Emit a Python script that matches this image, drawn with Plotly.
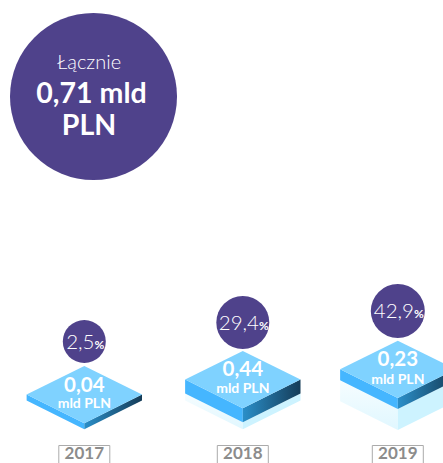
import plotly.graph_objects as go

# --- data ---
years = ["2017", "2018", "2019"]
values = ["0,04", "0,44", "0,23"]
shares = ["2,5", "29,4", "42,9"]
total_lines = ["Łącznie", "0,71 mld", "PLN"]
unit = "mld PLN"

# --- layout (pixel coordinates of the 443x463 page) ---
W, H = 443, 463
FONT = "Lato"
PURPLE = "#4f428b"
cx = [84.3, 242.8, 397.8]
top_y = [366, 351, 340.7]
half_w = 57.7
half_h = 28.6
slab = [6, 14, 11]
ghost = [0, 7, 21]
bub_y = [341.5, 322.5, 311]
bub_d = [43, 53, 54]
val_y = [387, 371, 361]
unit_y = [404.5, 389, 380]
YEAR_Y = 455
BOX_W = 51

fig = go.Figure()


def poly(xs, ys, color=None, gradient=None):
    kw = dict(fillgradient=gradient) if gradient else dict(fillcolor=color)
    fig.add_trace(go.Scatter(x=xs + xs[:1], y=ys + ys[:1], mode="lines", fill="toself",
                             line=dict(width=0), hoverinfo="skip", showlegend=False, **kw))


def label(x, y, text, size, color="white", weight="normal"):
    fig.add_trace(go.Scatter(x=[x], y=[y], mode="text", text=[text], textposition="middle center",
                             textfont=dict(family=FONT, size=size, color=color, weight=weight),
                             hoverinfo="skip", showlegend=False, cliponaxis=False))


for i in range(3):
    x, t = cx[i], top_y[i]
    l, r = x - half_w, x + half_w
    m = t + half_h
    b = t + 2 * half_h
    d, g = slab[i], ghost[i]
    if g:
        poly([l, x, x, l], [m + d, b + d, b + d + g, m + d + g],
             gradient=dict(type="vertical", colorscale=[[0, "#e0f7ff"], [1, "#f6fdff"]]))
        poly([x, r, r, x], [b + d, m + d, m + d + g, b + d + g], color="#cdf3ff")
    poly([l, x, x, l], [m, b, b + d, m + d], color="#45b6ff")
    poly([x, r, r, x], [b, m, m + d, b + d],
         gradient=dict(type="horizontal", colorscale=[[0, "#2b8fc9"], [1, "#153c58"]]))
    poly([x, r, x, l], [t, m, b, m], color="#7fd2ff")

# bubbles
fig.add_trace(go.Scatter(x=[93.5] + cx, y=[96.5] + bub_y, mode="markers",
                         marker=dict(size=[167] + bub_d, color=PURPLE, opacity=1, line=dict(width=0)),
                         hoverinfo="skip", showlegend=False))

label(89, 64, total_lines[0], 20, weight=300)
label(91.5, 96, total_lines[1], 28.5, weight="bold")
label(89, 128, total_lines[2], 28.5, weight="bold")

for i in range(3):
    label(cx[i] + 1, bub_y[i] + 2, f'{shares[i]}<span style="font-size:12px"><b>%</b></span>', 20.5, weight=300)
    label(cx[i], val_y[i], values[i], 20.5, weight="bold")
    label(cx[i], unit_y[i], unit, 14, weight="bold")
    label(cx[i], YEAR_Y, years[i], 17, color="#8c8c8c", weight="bold")
    fig.add_shape(type="rect", x0=cx[i] - BOX_W / 2, x1=cx[i] + BOX_W / 2, y0=445.5, y1=470,
                  line=dict(color="#ababab", width=1), fillcolor="rgba(0,0,0,0)")

fig.update_layout(width=W, height=H, margin=dict(l=0, r=0, t=0, b=0),
                  paper_bgcolor="white", plot_bgcolor="white", showlegend=False,
                  xaxis=dict(range=[0, W], visible=False, fixedrange=True),
                  yaxis=dict(range=[H, 0], visible=False, fixedrange=True))
fig.write_html("out.html", config={"displayModeBar": False},
               post_script="document.body.style.margin='0';document.body.style.overflow='hidden';")
